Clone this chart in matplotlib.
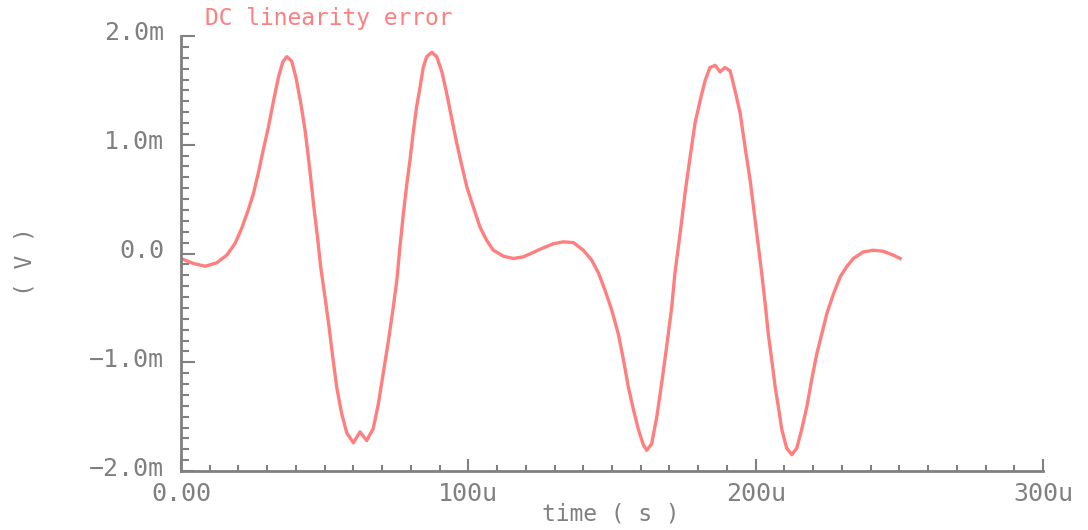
import numpy as np
import matplotlib.pyplot as plt
from matplotlib.ticker import FixedLocator, MultipleLocator
import matplotlib.transforms as mtransforms

# DC linearity error waveform: time in microseconds, error in millivolts
time_us = [0.0, 4.3, 8.4, 12.4, 15.9, 18.8, 21.1, 23.4, 25.2, 26.9,
           28.6, 30.4, 32.1, 33.9, 35.4, 36.8, 38.5, 40.0, 41.7, 43.2,
           44.7, 46.1, 47.5, 48.6, 50.1, 51.5, 52.8, 54.2, 55.9, 57.7,
           60.0, 62.3, 64.6, 66.9, 68.7, 70.4, 72.2, 73.9, 75.1, 76.2,
           77.4, 78.6, 79.7, 80.9, 82.0, 83.2, 84.3, 85.5, 87.3, 89.0,
           90.8, 92.5, 94.3, 96.0, 97.8, 99.5, 101.7, 104.1, 106.4, 108.7,
           112.2, 115.7, 119.2, 122.6, 125.0, 129.6, 133.1, 136.6, 140.0, 142.9,
           145.3, 147.6, 149.9, 152.2, 154.0, 155.7, 157.5, 159.2, 160.9, 162.1,
           163.8, 165.6, 167.3, 169.0, 170.8, 171.9, 173.1, 174.3, 175.4, 176.6,
           177.8, 178.9, 180.7, 182.4, 184.1, 185.9, 187.6, 189.3, 191.1, 192.8,
           194.6, 196.3, 198.1, 199.8, 201.0, 202.1, 203.3, 204.4, 205.6, 206.8,
           207.9, 209.1, 210.8, 212.6, 214.3, 216.0, 217.8, 219.5, 221.3, 223.0,
           224.8, 227.1, 229.4, 231.7, 234.0, 237.5, 241.0, 244.5, 248.0, 250.3]
error_mv = [-0.046, -0.092, -0.117, -0.086, -0.016, 0.092, 0.23, 0.40, 0.55, 0.74,
            0.95, 1.16, 1.39, 1.62, 1.76, 1.81, 1.77, 1.62, 1.38, 1.13,
            0.80, 0.46, 0.15, -0.12, -0.40, -0.67, -0.95, -1.23, -1.47, -1.65,
            -1.74, -1.64, -1.72, -1.61, -1.38, -1.10, -0.80, -0.49, -0.25, 0.06,
            0.37, 0.64, 0.86, 1.13, 1.35, 1.53, 1.71, 1.81, 1.85, 1.81,
            1.67, 1.47, 1.23, 1.01, 0.80, 0.61, 0.43, 0.24, 0.12, 0.03,
            -0.025, -0.046, -0.03, 0.01, 0.04, 0.09, 0.107, 0.10, 0.03, -0.06,
            -0.18, -0.34, -0.52, -0.74, -0.98, -1.23, -1.44, -1.62, -1.76, -1.81,
            -1.75, -1.50, -1.19, -0.86, -0.49, -0.18, 0.06, 0.31, 0.55, 0.78,
            1.00, 1.20, 1.41, 1.59, 1.71, 1.73, 1.67, 1.71, 1.68, 1.50,
            1.29, 0.98, 0.67, 0.31, 0.06, -0.18, -0.46, -0.74, -0.98, -1.23,
            -1.41, -1.62, -1.79, -1.85, -1.79, -1.62, -1.41, -1.16, -0.92, -0.74,
            -0.55, -0.37, -0.215, -0.12, -0.046, 0.015, 0.03, 0.02, -0.016, -0.046]

x_ticks = [0, 100, 200, 300]
x_labels = ['0.00', '100u', '200u', '300u']
y_ticks = [-2, -1, 0, 1, 2]
y_labels = ['\u22122.0m', '\u22121.0m', '0.0', '1.0m', '2.0m']

gray = '#808080'
trace = '#ff7f7f'
font = 'DejaVu Sans Mono'

fig = plt.figure(figsize=(10.88, 5.30), dpi=100)
ax = fig.add_axes([181 / 1088, 1 - 471 / 530, 862 / 1088, 435 / 530])

ax.plot(time_us, error_mv, color=trace, lw=2.4, solid_joinstyle='round')

ax.set_xlim(0, 300)
ax.set_ylim(-2, 2)

for side in ['top', 'right']:
    ax.spines[side].set_visible(False)
for side in ['left', 'bottom']:
    ax.spines[side].set_color(gray)
    ax.spines[side].set_linewidth(2)

ax.xaxis.set_major_locator(FixedLocator(x_ticks))
ax.xaxis.set_minor_locator(MultipleLocator(10))
ax.yaxis.set_major_locator(FixedLocator(y_ticks))
ax.yaxis.set_minor_locator(MultipleLocator(0.1))
ax.set_xticklabels(x_labels)
ax.set_yticklabels(y_labels)

ax.tick_params(which='both', direction='in', color=gray, width=1.5,
               labelcolor=gray, labelsize=18)
ax.tick_params(axis='x', which='major', length=9, pad=8)
ax.tick_params(axis='x', which='minor', length=4)
ax.tick_params(axis='y', which='major', length=10, pad=12)
ax.tick_params(axis='y', which='minor', length=6)

# labels sit a little above their tick marks on the y axis
shift = mtransforms.ScaledTranslation(0, 5 / 100, fig.dpi_scale_trans)
for lab in ax.get_yticklabels():
    lab.set_family(font)
    lab.set_transform(lab.get_transform() + shift)
for lab in ax.get_xticklabels():
    lab.set_family(font)

fig.text(205 / 1088, 1 - 18 / 530, 'DC linearity error', color=trace,
         family=font, fontsize=16.5, ha='left', va='center')
fig.text(611 / 1088, 1 - 514 / 530, 'time ( s )', color=gray,
         family=font, fontsize=16.5, ha='center', va='center')
fig.text(25 / 1088, 1 - 262 / 530, '( V )', color=gray, rotation=90,
         family=font, fontsize=16.5, ha='center', va='center')

fig.savefig('out.png', dpi=100)
